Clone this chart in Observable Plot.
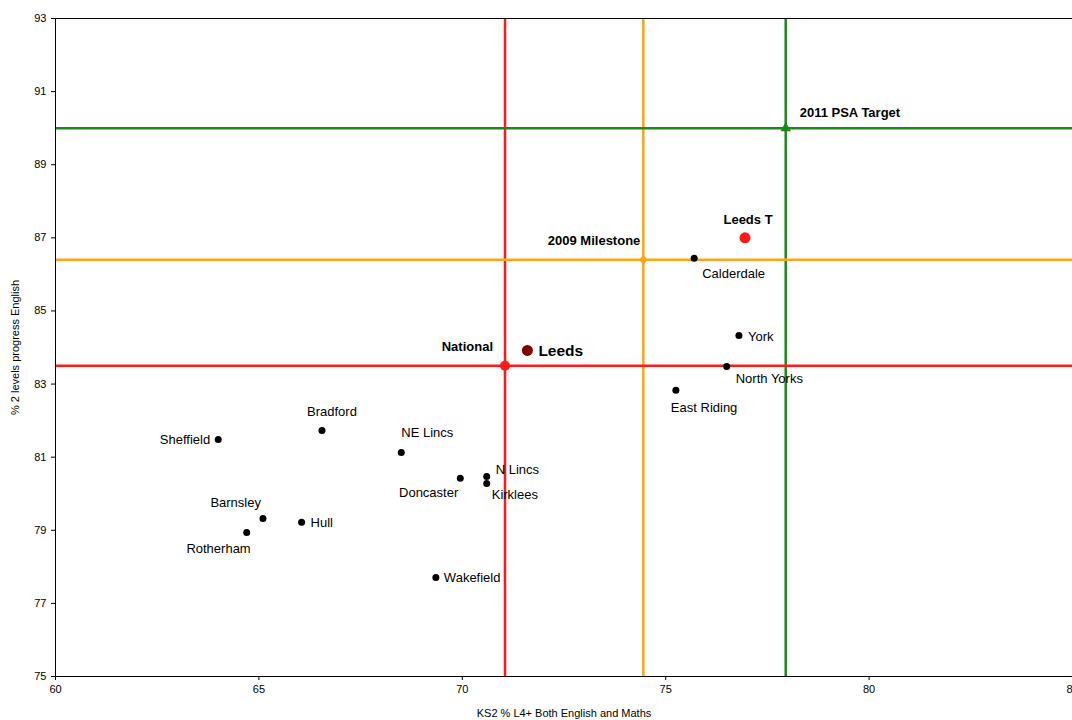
<!DOCTYPE html>
<html>
<head>
<meta charset="utf-8">
<script src="https://cdn.jsdelivr.net/npm/d3@7"></script>
<script src="https://cdn.jsdelivr.net/npm/@observablehq/plot@0.6"></script>
<style>
  body { margin: 0; background: #fff; font-family: "Liberation Sans", Arial, sans-serif; }
</style>
</head>
<body>
<div id="chart"></div>
<script>
// authorities (KS2 %, progress %)
const names = ["Sheffield","Bradford","NE Lincs","Doncaster","N Lincs","Kirklees","Barnsley","Hull","Rotherham","Wakefield","Calderdale","York","North Yorks","East Riding"]
const ks2 = [64.0, 66.55, 68.5, 69.95, 70.6, 70.6, 65.1, 66.05, 64.7, 69.35, 75.7, 76.8, 76.5, 75.25]
const prog = [81.48, 81.73, 81.13, 80.42, 80.47, 80.28, 79.32, 79.22, 78.94, 77.71, 86.44, 84.33, 83.48, 82.83]

// reference values
const national = {x: 71.05, y: 83.5}
const milestone = {x: 74.45, y: 86.4}
const target = {x: 77.95, y: 90}
const leeds = {x: 71.6, y: 83.92}
const leedsT = {x: 76.95, y: 87.0}

const xTicks = [60, 65, 70, 75, 80, 85]
const yTicks = [75, 77, 79, 81, 83, 85, 87, 89, 91, 93]

const pts = names.map((n, i) => ({name: n, x: ks2[i], y: prog[i]}))

// label placement (styling only)
const place = {
  "Sheffield": {a: "end", dx: -8, dy: 0},
  "Bradford": {a: "middle", dx: 10, dy: -19},
  "NE Lincs": {a: "start", dx: 0, dy: -20},
  "Doncaster": {a: "end", dx: -2, dy: 14},
  "N Lincs": {a: "start", dx: 9, dy: -7},
  "Kirklees": {a: "start", dx: 5, dy: 11},
  "Barnsley": {a: "end", dx: -2, dy: -16},
  "Hull": {a: "start", dx: 9, dy: 1},
  "Rotherham": {a: "end", dx: 4, dy: 16},
  "Wakefield": {a: "start", dx: 8, dy: 0},
  "Calderdale": {a: "start", dx: 8, dy: 16},
  "York": {a: "start", dx: 9, dy: 1},
  "North Yorks": {a: "start", dx: 9, dy: 12},
  "East Riding": {a: "start", dx: -5, dy: 18}
}
const groups = d3.groups(pts, d => JSON.stringify(place[d.name]))

const font = "Liberation Sans, Arial, sans-serif"

const chart = Plot.plot({
  width: 1072,
  height: 720,
  marginLeft: 55,
  marginRight: 0,
  marginTop: 18,
  marginBottom: 44,
  style: {fontFamily: font, fontSize: "11px", background: "#fff", overflow: "visible"},
  x: {domain: [60, 85], ticks: xTicks, tickSize: 4, label: "KS2 % L4+ Both English and Maths", labelAnchor: "center", labelArrow: "none", labelOffset: 40},
  y: {domain: [75, 93], ticks: yTicks, tickSize: 4, label: "% 2 levels progress English", labelAnchor: "center", labelArrow: "none", labelOffset: 44},
  marks: [
    Plot.ruleX([national.x], {stroke: "#ff1a1a", strokeWidth: 2.5}),
    Plot.ruleX([milestone.x], {stroke: "#ffa31a", strokeWidth: 2.5}),
    Plot.ruleX([target.x], {stroke: "#1a8a1a", strokeWidth: 2.5}),
    Plot.ruleY([national.y], {stroke: "#ff1a1a", strokeWidth: 2.5}),
    Plot.ruleY([milestone.y], {stroke: "#ffa31a", strokeWidth: 2.5}),
    Plot.ruleY([target.y], {stroke: "#1a8a1a", strokeWidth: 2.5}),
    Plot.frame({stroke: "#000"}),
    Plot.dot(pts, {x: "x", y: "y", r: 3.5, fill: "#000"}),
    ...groups.map(([k, g]) => {
      const p = JSON.parse(k)
      return Plot.text(g, {x: "x", y: "y", text: "name", textAnchor: p.a, dx: p.dx, dy: p.dy, fontSize: 13, fill: "#000"})
    }),
    Plot.dot([national], {x: "x", y: "y", r: 5, fill: "#ff1a1a"}),
    Plot.dot([milestone], {x: "x", y: "y", r: 4, fill: "#ffa31a", symbol: "diamond2"}),
    Plot.dot([target], {x: "x", y: "y", r: 5, fill: "#1a8a1a", symbol: "triangle2"}),
    Plot.dot([leeds], {x: "x", y: "y", r: 5.5, fill: "#800000"}),
    Plot.dot([leedsT], {x: "x", y: "y", r: 5.5, fill: "#ff1a1a"}),
    Plot.text([national], {x: "x", y: "y", text: () => "National", textAnchor: "end", dx: -12, dy: -19, fontSize: 13, fontWeight: "bold"}),
    Plot.text([milestone], {x: "x", y: "y", text: () => "2009 Milestone", textAnchor: "end", dx: -3, dy: -19, fontSize: 13, fontWeight: "bold"}),
    Plot.text([target], {x: "x", y: "y", text: () => "2011 PSA Target", textAnchor: "start", dx: 14, dy: -15, fontSize: 13, fontWeight: "bold"}),
    Plot.text([leeds], {x: "x", y: "y", text: () => "Leeds", textAnchor: "start", dx: 11, dy: 1, fontSize: 15.5, fontWeight: "bold"}),
    Plot.text([leedsT], {x: "x", y: "y", text: () => "Leeds T", textAnchor: "middle", dx: 3, dy: -18, fontSize: 13, fontWeight: "bold"})
  ]
})
d3.select("#chart").append(() => chart)
</script>
</body>
</html>
